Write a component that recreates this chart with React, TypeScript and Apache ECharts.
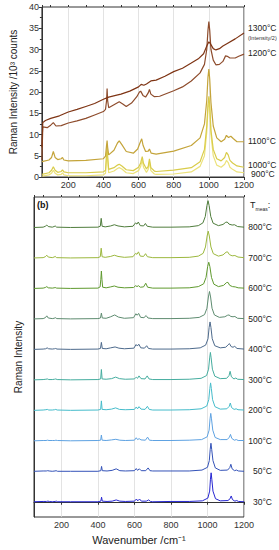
import React, { useEffect, useRef } from "react";
import * as echarts from "echarts";

type Pt = [number, number];

// ---------- Panel (a): absolute intensities (10^3 counts) ----------
const topNames = ["1300°C", "1200°C", "1100°C", "1000°C", "900°C"];
const topColors = ["#7e3414", "#8e4c2c", "#c4a43a", "#d9cc4a", "#ece27a"];

const s1300: Pt[] = [[50,7],[55,12.8],[70,13.3],[100,13.8],[150,14.4],[200,15.3],[250,15.9],[300,16.6],[350,17.3],[400,18.3],[430,18.8],[470,19.2],[500,19.5],[550,20.2],[600,21.2],[615,21.8],[630,21.6],[645,21.9],[670,22.6],[700,22.8],[750,23.7],[800,24.8],[850,25.6],[900,26.8],[940,27.8],[970,29],[990,31],[1000,31.8],[1010,31.3],[1025,30.2],[1040,29.9],[1060,30.2],[1080,30.8],[1100,31.3],[1150,32.5],[1200,33.9]];
const s1200: Pt[] = [[50,4],[55,11.8],[80,11.6],[100,12.2],[115,12.8],[130,12.0],[160,12.1],[200,12.7],[250,13.2],[300,13.8],[350,14.6],[400,15.4],[412,15.9],[418,18],[421,20.8],[424,18],[430,16.3],[460,17],[490,17.7],[510,17.2],[530,16.6],[560,17.4],[590,18.9],[605,20],[612,20.2],[625,19.2],[640,18.8],[655,19.8],[662,20.6],[670,19.5],[690,18.9],[720,19],[800,20.3],[850,21.2],[900,22.6],[950,24.5],[975,26.5],[988,30],[995,34.5],[1000,36.6],[1005,34.5],[1012,30],[1025,27.5],[1040,26.4],[1060,26.5],[1080,27.2],[1095,28.5],[1105,28.4],[1120,28.0],[1150,28.0],[1170,28.4],[1200,28.9]];
const s1100: Pt[] = [[50,3.6],[90,4.0],[105,4.6],[115,6.0],[125,4.6],[140,4.1],[160,4.3],[167,4.6],[175,4.0],[200,3.8],[300,3.9],[400,4.3],[412,4.9],[418,7.5],[421,8.6],[424,7],[430,5.2],[460,6.3],[480,8.0],[490,8.5],[505,7.6],[530,6.0],[570,5.6],[595,6.6],[608,8.0],[618,9.0],[626,7.4],[640,6.0],[655,6.1],[662,6.6],[672,5.6],[700,5.4],[800,6.1],[900,7.4],[950,9.2],[975,12.5],[988,18],[995,23.5],[1000,25.4],[1005,23],[1012,17.5],[1025,12],[1045,9.2],[1070,8.3],[1090,8.9],[1100,9.8],[1112,9.3],[1125,9.6],[1140,9.0],[1160,8.3],[1200,8.3]];
const s1000: Pt[] = [[50,0.6],[90,1.0],[105,1.6],[115,2.4],[125,1.6],[140,1.1],[160,1.3],[167,1.7],[175,1.2],[200,1.0],[300,1.0],[400,1.2],[412,1.6],[418,5.5],[421,7.0],[424,5],[430,1.8],[460,2.2],[480,2.8],[490,3.0],[505,2.6],[530,1.7],[570,1.5],[600,2.3],[612,3.3],[621,4.8],[628,3.2],[645,1.9],[655,2.5],[662,4.3],[670,2.2],[690,1.4],[700,1.3],[800,1.6],[900,2.2],[950,3.6],[975,6.5],[988,12],[995,17],[1000,19.0],[1005,17],[1012,11],[1025,6.5],[1045,4.3],[1070,3.8],[1090,4.6],[1100,5.8],[1110,5.2],[1120,3.9],[1135,3.3],[1160,2.6],[1200,2.3]];
const s900: Pt[] = [[50,0.2],[90,0.5],[105,0.9],[115,1.6],[125,0.9],[140,0.5],[160,0.6],[167,1.0],[175,0.5],[200,0.3],[300,0.3],[400,0.5],[412,0.9],[418,4.5],[421,6.0],[424,4],[430,1.0],[460,1.4],[480,2.0],[490,2.2],[505,1.9],[530,1.0],[570,0.8],[600,1.5],[612,2.5],[621,4.0],[628,2.3],[645,1.1],[655,1.8],[662,3.6],[670,1.5],[690,0.7],[700,0.6],[800,0.7],[900,1.2],[950,2.5],[975,5],[988,10.5],[995,16],[1000,18.0],[1005,16],[1012,10],[1025,5],[1045,2.8],[1070,2.3],[1090,3.0],[1100,3.9],[1110,3.4],[1120,2.3],[1135,1.8],[1160,1.2],[1200,1.0]];
const topData: Pt[][] = [s1300, s1200, s1100, s1000, s900];

// ---------- Panel (b): stacked normalised spectra ----------
const bottomNames = ["800°C", "700°C", "600°C", "500°C", "400°C", "300°C", "200°C", "100°C", "50°C", "30°C"];
const bottomColors = ["#4f7d3c", "#9cb83e", "#5f9a2e", "#5e8c70", "#4d6a8c", "#45ad9f", "#45bccb", "#5ea2e2", "#3352b8", "#2626d2"];
const bottomOffsets = [9, 8, 7, 6, 5, 4, 3, 2, 1, 0];

const b800: Pt[] = [[50,0],[100,0.01],[112,0.04],[120,0.08],[128,0.03],[150,0.01],[160,0.03],[166,0.05],[174,0.01],[250,0],[400,0.01],[413,0.04],[418,0.3],[423,0.04],[440,0.02],[470,0.05],[490,0.09],[510,0.05],[545,0.02],[592,0.04],[606,0.15],[614,0.11],[621,0.18],[632,0.06],[650,0.05],[660,0.13],[670,0.04],[700,0.01],[800,0.01],[900,0.02],[950,0.06],[975,0.15],[988,0.36],[997,0.72],[1003,0.88],[1009,0.72],[1018,0.36],[1031,0.14],[1060,0.06],[1085,0.1],[1100,0.17],[1108,0.18],[1118,0.11],[1135,0.08],[1148,0.09],[1165,0.03],[1200,0.01]];
const b700: Pt[] = [[50,0],[100,0.01],[112,0.04],[120,0.09],[128,0.03],[150,0.01],[160,0.03],[166,0.05],[174,0.01],[250,0],[400,0.01],[413,0.04],[418,0.32],[423,0.04],[440,0.02],[470,0.05],[490,0.09],[510,0.05],[545,0.02],[592,0.04],[606,0.15],[614,0.12],[622,0.2],[632,0.06],[650,0.05],[661,0.14],[671,0.04],[700,0.01],[800,0.01],[900,0.02],[950,0.06],[976,0.15],[989,0.36],[998,0.72],[1004,0.88],[1010,0.72],[1019,0.36],[1032,0.14],[1060,0.06],[1085,0.1],[1102,0.19],[1110,0.2],[1120,0.11],[1135,0.07],[1150,0.08],[1167,0.03],[1200,0.01]];
const b600: Pt[] = [[50,0],[100,0.01],[112,0.03],[120,0.06],[128,0.02],[150,0.01],[160,0.02],[166,0.03],[174,0.01],[250,0],[400,0.01],[412,0.05],[416,0.3],[419,0.57],[422,0.3],[426,0.04],[445,0.02],[470,0.05],[490,0.08],[510,0.04],[545,0.02],[595,0.03],[607,0.09],[614,0.06],[622,0.09],[632,0.04],[650,0.05],[662,0.17],[672,0.04],[700,0.01],[800,0.01],[900,0.02],[950,0.06],[979,0.15],[992,0.36],[1001,0.72],[1007,0.86],[1013,0.72],[1022,0.36],[1035,0.14],[1060,0.06],[1088,0.1],[1104,0.19],[1112,0.2],[1122,0.1],[1137,0.06],[1152,0.05],[1168,0.02],[1200,0.01]];
const b500: Pt[] = [[50,0],[100,0.01],[112,0.04],[120,0.1],[128,0.03],[150,0.01],[160,0.02],[167,0.04],[175,0.01],[250,0],[400,0.01],[414,0.03],[419,0.19],[424,0.03],[445,0.02],[470,0.07],[492,0.13],[512,0.06],[545,0.02],[595,0.04],[608,0.17],[615,0.12],[623,0.18],[634,0.05],[652,0.04],[664,0.11],[674,0.03],[700,0.01],[800,0.01],[900,0.02],[955,0.05],[984,0.14],[997,0.35],[1005,0.72],[1011,0.9],[1017,0.72],[1025,0.35],[1038,0.13],[1065,0.05],[1095,0.07],[1110,0.12],[1118,0.13],[1128,0.08],[1140,0.07],[1150,0.08],[1165,0.02],[1200,0.01]];
const b400: Pt[] = [[50,0],[100,0.01],[114,0.02],[122,0.05],[130,0.02],[150,0.01],[162,0.02],[168,0.03],[176,0.01],[250,0],[400,0.01],[414,0.03],[419,0.23],[424,0.03],[445,0.02],[470,0.05],[494,0.08],[515,0.04],[545,0.02],[597,0.04],[609,0.16],[616,0.11],[624,0.17],[635,0.05],[655,0.04],[667,0.12],[677,0.03],[700,0.01],[800,0.01],[900,0.02],[960,0.05],[990,0.14],[1003,0.35],[1009,0.72],[1014,0.9],[1019,0.72],[1026,0.35],[1040,0.12],[1070,0.05],[1100,0.07],[1113,0.15],[1120,0.19],[1130,0.09],[1140,0.07],[1149,0.1],[1162,0.03],[1200,0.01]];
const b300: Pt[] = [[50,0],[100,0.01],[115,0.02],[123,0.03],[131,0.01],[150,0.01],[163,0.02],[169,0.03],[177,0.01],[250,0],[400,0.01],[415,0.03],[419,0.34],[423,0.03],[445,0.02],[475,0.04],[497,0.09],[518,0.04],[550,0.02],[600,0.03],[610,0.09],[617,0.05],[625,0.13],[636,0.04],[658,0.03],[670,0.13],[680,0.03],[700,0.01],[800,0.01],[900,0.02],[965,0.05],[995,0.14],[1006,0.35],[1012,0.72],[1016,0.9],[1020,0.72],[1027,0.35],[1040,0.12],[1070,0.04],[1105,0.05],[1118,0.14],[1124,0.28],[1131,0.1],[1145,0.03],[1155,0.06],[1165,0.02],[1200,0.01]];
const b200: Pt[] = [[50,0],[100,0.01],[115,0.02],[123,0.03],[131,0.01],[150,0.01],[163,0.02],[169,0.03],[177,0.01],[250,0],[400,0.01],[415,0.03],[419,0.31],[423,0.03],[445,0.02],[475,0.04],[497,0.08],[518,0.03],[550,0.02],[600,0.03],[610,0.11],[617,0.05],[625,0.12],[636,0.04],[658,0.03],[671,0.13],[681,0.03],[700,0.01],[800,0.01],[900,0.02],[965,0.05],[996,0.14],[1007,0.35],[1013,0.72],[1017,0.9],[1021,0.72],[1028,0.35],[1041,0.12],[1070,0.04],[1106,0.05],[1119,0.13],[1125,0.24],[1132,0.09],[1146,0.03],[1157,0.05],[1167,0.02],[1200,0.01]];
const b100: Pt[] = [[50,0],[100,0.01],[116,0.01],[124,0.02],[132,0.01],[150,0.01],[164,0.01],[170,0.02],[178,0.01],[250,0],[400,0.01],[415,0.02],[419,0.19],[423,0.02],[445,0.01],[475,0.03],[498,0.05],[520,0.02],[550,0.01],[600,0.02],[610,0.1],[617,0.04],[626,0.07],[636,0.03],[660,0.02],[672,0.12],[682,0.02],[700,0.01],[800,0.01],[900,0.02],[968,0.04],[998,0.13],[1009,0.35],[1014,0.72],[1018,0.9],[1022,0.72],[1029,0.35],[1042,0.11],[1070,0.04],[1108,0.04],[1120,0.12],[1126,0.21],[1133,0.08],[1147,0.02],[1158,0.04],[1168,0.01],[1200,0.01]];
const b50: Pt[] = [[50,0],[100,0.01],[117,0.01],[125,0.02],[133,0.01],[150,0],[165,0.01],[171,0.02],[179,0],[250,0],[400,0],[416,0.02],[420,0.16],[424,0.02],[450,0.01],[478,0.03],[500,0.08],[520,0.02],[550,0.01],[600,0.02],[610,0.09],[617,0.03],[627,0.08],[637,0.02],[662,0.02],[675,0.11],[685,0.02],[700,0.01],[800,0.01],[900,0.01],[970,0.04],[1000,0.13],[1010,0.35],[1015,0.72],[1019,0.92],[1023,0.72],[1030,0.35],[1043,0.11],[1070,0.03],[1110,0.04],[1122,0.12],[1128,0.23],[1135,0.08],[1148,0.02],[1159,0.04],[1169,0.01],[1200,0]];
const b30: Pt[] = [[50,0],[100,0.01],[118,0.01],[126,0.02],[134,0.01],[150,0],[166,0.01],[172,0.02],[180,0],[250,0],[400,0],[416,0.02],[420,0.15],[424,0.02],[450,0.01],[478,0.02],[500,0.06],[520,0.02],[550,0.01],[600,0.02],[611,0.09],[618,0.03],[628,0.09],[638,0.02],[665,0.02],[678,0.06],[688,0.01],[700,0],[800,0.01],[900,0.01],[972,0.03],[1002,0.12],[1012,0.35],[1016,0.72],[1020,0.95],[1024,0.72],[1030,0.35],[1044,0.1],[1070,0.03],[1112,0.04],[1124,0.1],[1130,0.19],[1137,0.07],[1150,0.02],[1160,0.04],[1170,0.01],[1200,0]];
const bottomData: Pt[][] = [b800, b700, b600, b500, b400, b300, b200, b100, b50, b30];

const FONT = "'Liberation Sans', Arial, sans-serif";
const AX = "#333";

export default function App() {
  const ref = useRef<HTMLDivElement>(null);
  useEffect(() => {
    if (!ref.current) return;
    const chart = echarts.init(ref.current, undefined, { renderer: "svg" });

    const mainX = (grid: number, withName: boolean) => ({
      type: "value",
      gridIndex: grid,
      min: 50,
      max: 1200,
      splitNumber: 6,
      axisLine: { show: true, lineStyle: { color: AX, width: 1 } },
      axisTick: { show: true, length: 3, lineStyle: { color: AX } },
      axisLabel: {
        fontSize: 9,
        color: AX,
        fontFamily: FONT,
        showMinLabel: false,
        margin: 3,
        formatter: (v: number) => String(v),
      },
      splitLine: { show: true, lineStyle: { color: "#dcdcdc", width: 0.8 } },
      name: withName ? "Wavenumber /cm⁻¹" : "",
      nameLocation: "middle",
      nameGap: 17,
      nameTextStyle: { fontSize: 11, color: "#222", fontFamily: FONT },
    });
    const minorX = (grid: number) => ({
      type: "value",
      gridIndex: grid,
      min: 50,
      max: 1200,
      splitNumber: 12,
      axisLine: { show: false },
      axisTick: { show: true, length: 2, lineStyle: { color: AX } },
      axisLabel: { show: false },
      splitLine: { show: false },
    });

    const series: any[] = [];
    topData.forEach((d, i) => {
      series.push({
        type: "line",
        name: topNames[i],
        xAxisIndex: 0,
        yAxisIndex: 0,
        data: d,
        showSymbol: false,
        clip: true,
        lineStyle: { color: topColors[i], width: 1.2 },
        z: 10 - i,
      });
    });
    bottomData.forEach((d, i) => {
      series.push({
        type: "line",
        name: bottomNames[i],
        xAxisIndex: 2,
        yAxisIndex: 1,
        data: d.map(([x, y]) => [x, y + bottomOffsets[i]]),
        showSymbol: false,
        clip: true,
        lineStyle: { color: bottomColors[i], width: 1 },
      });
    });

    chart.setOption({
      animation: false,
      backgroundColor: "#fff",
      textStyle: { fontFamily: FONT },
      grid: [
        { left: 34, right: 35, top: 7, height: 170, show: true, borderColor: AX, borderWidth: 1 },
        { left: 34, right: 35, top: 197, height: 325, show: true, borderColor: AX, borderWidth: 1 },
      ],
      xAxis: [mainX(0, false), minorX(0), mainX(1, true), minorX(1)],
      yAxis: [
        {
          type: "value",
          gridIndex: 0,
          min: 0,
          max: 40,
          interval: 5,
          axisLine: { show: true, lineStyle: { color: AX } },
          axisTick: { show: true, length: 3, lineStyle: { color: AX } },
          minorTick: { show: true, splitNumber: 2, length: 2, lineStyle: { color: AX } },
          axisLabel: { fontSize: 9, color: AX, fontFamily: FONT, margin: 3 },
          splitLine: { show: false },
          name: "Raman Intensity /10³ counts",
          nameLocation: "middle",
          nameGap: 21,
          nameTextStyle: { fontSize: 10, color: "#222", fontFamily: FONT },
        },
        {
          type: "value",
          gridIndex: 1,
          min: -0.5,
          max: 10,
          axisLine: { show: true, lineStyle: { color: AX } },
          axisTick: { show: false },
          axisLabel: { show: false },
          splitLine: { show: false },
          name: "Raman Intensity",
          nameLocation: "middle",
          nameGap: 11,
          nameTextStyle: { fontSize: 10, color: "#222", fontFamily: FONT },
        },
      ],
      series,
    });

    const labelStyle = { fontSize: 8.5, fill: "#222", fontFamily: FONT };
    const graphics: any[] = [];
    const topLabelY = [28, 53, 141, 165, 174];
    const topLabelX = [248, 248, 248, 248, 251];
    topNames.forEach((n, i) => {
      graphics.push({
        type: "text",
        x: topLabelX[i],
        y: topLabelY[i],
        style: { ...labelStyle, text: n, verticalAlign: "middle" },
      });
    });
    graphics.push({
      type: "text",
      x: 248,
      y: 38,
      style: { fontSize: 5.5, fill: "#333", fontFamily: FONT, text: "(Intensity/2)", verticalAlign: "middle" },
    });
    bottomNames.forEach((n, i) => {
      const py = chart.convertToPixel({ yAxisIndex: 1 } as any, bottomOffsets[i]) as number;
      graphics.push({
        type: "text",
        x: 272,
        y: py,
        style: { ...labelStyle, text: n, align: "right", verticalAlign: "middle" },
      });
    });
    graphics.push({
      type: "text",
      x: 250,
      y: 205,
      style: {
        text: "{a|T}{b|meas}{a|:}",
        verticalAlign: "middle",
        rich: {
          a: { fontSize: 9, fill: "#222", fontFamily: FONT, verticalAlign: "bottom" },
          b: { fontSize: 5, fill: "#222", fontFamily: FONT, verticalAlign: "bottom", padding: [0, 0, -2, 0] },
        },
      },
    });
    graphics.push({
      type: "text",
      x: 37,
      y: 205,
      style: { text: "(b)", fontSize: 9, fontWeight: "bold", fill: "#111", fontFamily: FONT, verticalAlign: "middle" },
    });
    chart.setOption({ graphic: graphics });

    return () => chart.dispose();
  }, []);

  return (
    <div
      ref={ref}
      style={{ position: "fixed", left: 0, top: 0, width: 279, height: 550, background: "#fff" }}
    />
  );
}
